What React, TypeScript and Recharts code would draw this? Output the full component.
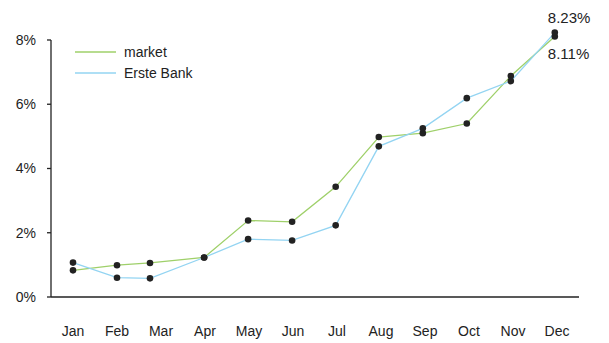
import { LineChart, Line, XAxis, YAxis, LabelList, ReferenceLine } from "recharts";

const months = ["Jan", "Feb", "Mar", "Apr", "May", "Jun", "Jul", "Aug", "Sep", "Oct", "Nov", "Dec"];
// where each observation sits along the month axis (month index, fractional)
const positions = [0.5, 1.5, 2.25, 3.48, 4.48, 5.48, 6.47, 7.45, 8.45, 9.45, 10.45, 11.45];
const market = [0.83, 0.99, 1.06, 1.23, 2.38, 2.34, 3.43, 4.98, 5.1, 5.4, 6.88, 8.11];
const erste = [1.07, 0.6, 0.58, 1.23, 1.8, 1.76, 2.23, 4.69, 5.25, 6.19, 6.72, 8.23];
const yTicks = [0, 2, 4, 6, 8];

const data = months.map((m, i) => ({
  month: m,
  pos: positions[i],
  market: market[i],
  erste: erste[i],
}));

const GREEN = "#9fd06a";
const BLUE = "#93d4f2";
const INK = "#222";
const FONT = "'Liberation Sans', Arial, sans-serif";

const legendItems = [
  { name: "market", color: GREEN },
  { name: "Erste Bank", color: BLUE },
];

function LegendBox() {
  return (
    <div
      style={{
        position: "absolute",
        left: 75,
        top: 41,
        fontFamily: FONT,
        fontSize: 14,
        color: INK,
      }}
    >
      {legendItems.map((it) => (
        <div key={it.name} style={{ display: "flex", alignItems: "center", height: 21 }}>
          <svg width={49} height={4}>
            <line x1={0} y1={2} x2={41} y2={2} stroke={it.color} strokeWidth={1.5} />
          </svg>
          <span>{it.name}</span>
        </div>
      ))}
    </div>
  );
}

const lastLabel = (above: boolean) => (props: any) => {
  const { x, y, value, index } = props;
  if (index !== data.length - 1) return null;
  return (
    <text
      x={x - 7}
      y={above ? y - 14 : y + 19}
      textAnchor="start"
      dominantBaseline="middle"
      fontSize={15}
      fontFamily={FONT}
      fill={INK}
    >
      {value.toFixed(2)}%
    </text>
  );
};

export default function App() {
  return (
    <div
      style={{
        position: "relative",
        margin: "-8px 0 0 -8px",
        width: 609,
        height: 343,
        background: "#fff",
      }}
    >
      <LineChart
        width={609}
        height={343}
        data={data}
        margin={{ top: 32.6, right: 30, left: 0, bottom: 0 }}
      >
        <XAxis
          xAxisId="a_ticks"
          dataKey="pos"
          type="number"
          domain={[0, 12]}
          ticks={[0, 1, 2, 3, 4, 5, 6, 7, 8, 9, 10, 11, 12]}
          tick={false}
          tickSize={5}
          height={10}
          stroke={INK}
          axisLine={{ stroke: INK, strokeWidth: 1.3 }}
          tickLine={{ stroke: INK, strokeWidth: 1.3 }}
        />
        <XAxis
          xAxisId="b_labels"
          dataKey="pos"
          type="number"
          domain={[0, 12]}
          ticks={months.map((_, i) => i + 0.5)}
          tickFormatter={(v: number) => months[Math.floor(v)]}
          axisLine={false}
          tickLine={false}
          tickSize={0}
          tickMargin={19}
          height={36}
          tick={{ fill: INK, fontSize: 14, fontFamily: FONT }}
        />
        <YAxis
          domain={[0, "dataMax"]}
          ticks={yTicks}
          tickFormatter={(v: number) => `${v}%`}
          width={51}
          tickSize={4}
          tickMargin={11}
          stroke={INK}
          axisLine={false}
          tickLine={{ stroke: INK, strokeWidth: 1.3 }}
          tick={{ fill: INK, fontSize: 14, fontFamily: FONT }}
        />
        {/* y axis line only reaches the top tick, as in the original */}
        <ReferenceLine
          xAxisId="a_ticks"
          segment={[
            { x: 0, y: 0 },
            { x: 0, y: yTicks[yTicks.length - 1] },
          ]}
          stroke={INK}
          strokeWidth={1.3}
        />
        <Line
          xAxisId="a_ticks"
          dataKey="market"
          name="market"
          stroke={GREEN}
          strokeWidth={1.3}
          dot={{ r: 3.3, fill: INK, stroke: "none" }}
          activeDot={false}
          isAnimationActive={false}
        >
          <LabelList dataKey="market" content={lastLabel(false)} />
        </Line>
        <Line
          xAxisId="a_ticks"
          dataKey="erste"
          name="Erste Bank"
          stroke={BLUE}
          strokeWidth={1.3}
          dot={{ r: 3.3, fill: INK, stroke: "none" }}
          activeDot={false}
          isAnimationActive={false}
        >
          <LabelList dataKey="erste" content={lastLabel(true)} />
        </Line>
      </LineChart>
      <LegendBox />
    </div>
  );
}
